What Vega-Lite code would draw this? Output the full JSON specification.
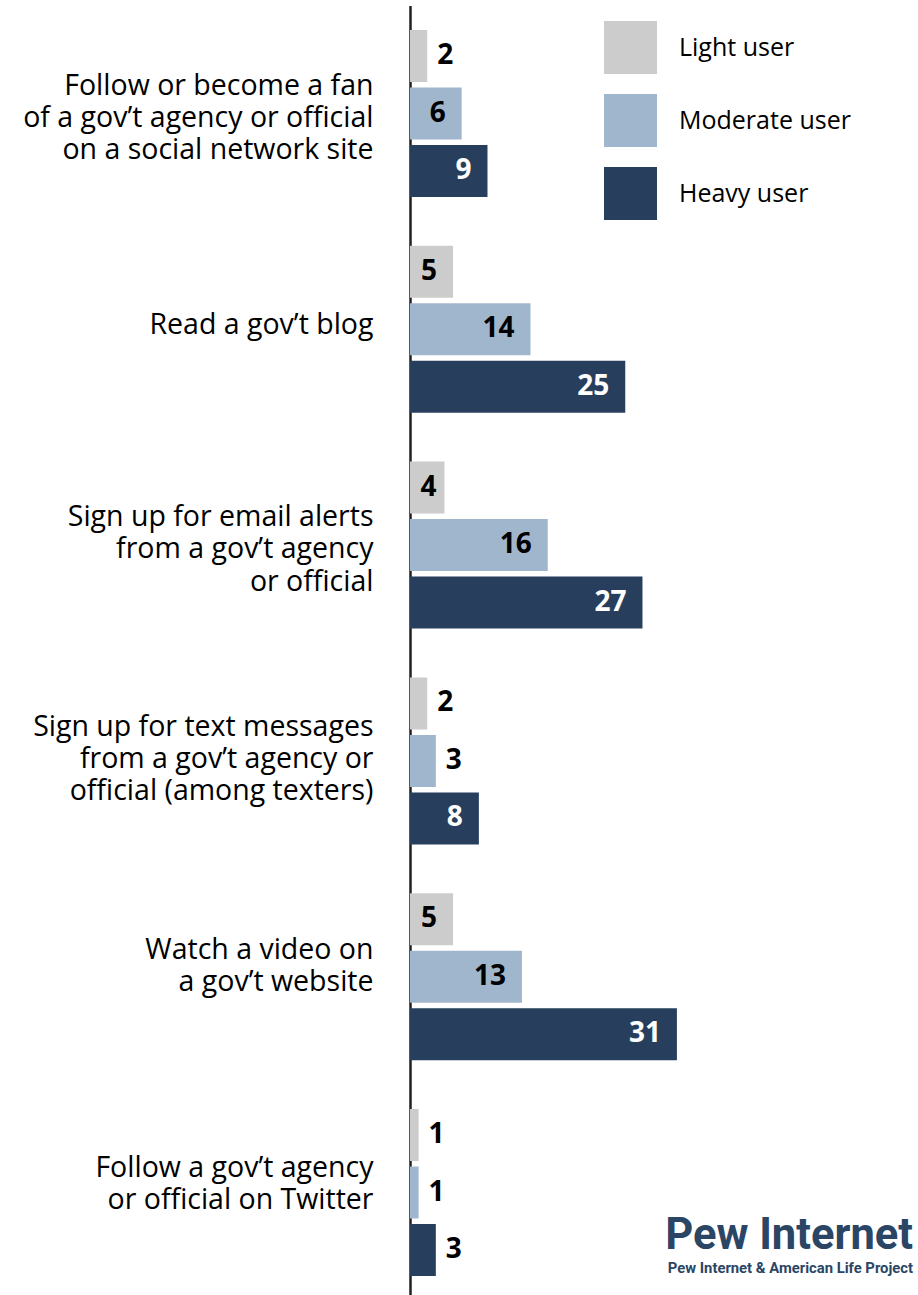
{
  "$schema": "https://vega.github.io/schema/vega-lite/v6.json",
  "width": 508,
  "height": 1295,
  "autosize": {"type": "none"},
  "padding": {"left": 410, "top": 0, "right": 0, "bottom": 0},
  "background": "white",
  "config": {"view": {"stroke": null}, "font": "Open Sans"},
  "title": {
    "text": "Pew Internet",
    "subtitle": "Pew Internet & American Life Project",
    "orient": "bottom",
    "anchor": "end",
    "frame": "group",
    "offset": -80,
    "dx": -5,
    "font": "Roboto",
    "fontSize": 43.5,
    "fontWeight": "bold",
    "color": "#2b4565",
    "subtitleFont": "Roboto",
    "subtitleFontSize": 14.8,
    "subtitleFontWeight": "bold",
    "subtitleColor": "#2b4565",
    "subtitlePadding": 2
  },
  "data": {
    "values": [
      {"activity": "Follow or become a fan|of a gov’t agency or official|on a social network site", "group": "Light user", "value": 2},
      {"activity": "Follow or become a fan|of a gov’t agency or official|on a social network site", "group": "Moderate user", "value": 6},
      {"activity": "Follow or become a fan|of a gov’t agency or official|on a social network site", "group": "Heavy user", "value": 9},
      {"activity": "Read a gov’t blog", "group": "Light user", "value": 5},
      {"activity": "Read a gov’t blog", "group": "Moderate user", "value": 14},
      {"activity": "Read a gov’t blog", "group": "Heavy user", "value": 25},
      {"activity": "Sign up for email alerts|from a gov’t agency|or official", "group": "Light user", "value": 4},
      {"activity": "Sign up for email alerts|from a gov’t agency|or official", "group": "Moderate user", "value": 16},
      {"activity": "Sign up for email alerts|from a gov’t agency|or official", "group": "Heavy user", "value": 27},
      {"activity": "Sign up for text messages|from a gov’t agency or|official (among texters)", "group": "Light user", "value": 2},
      {"activity": "Sign up for text messages|from a gov’t agency or|official (among texters)", "group": "Moderate user", "value": 3},
      {"activity": "Sign up for text messages|from a gov’t agency or|official (among texters)", "group": "Heavy user", "value": 8},
      {"activity": "Watch a video on|a gov’t website", "group": "Light user", "value": 5},
      {"activity": "Watch a video on|a gov’t website", "group": "Moderate user", "value": 13},
      {"activity": "Watch a video on|a gov’t website", "group": "Heavy user", "value": 31},
      {"activity": "Follow a gov’t agency|or official on Twitter", "group": "Light user", "value": 1},
      {"activity": "Follow a gov’t agency|or official on Twitter", "group": "Moderate user", "value": 1},
      {"activity": "Follow a gov’t agency|or official on Twitter", "group": "Heavy user", "value": 3}
    ]
  },
  "encoding": {
    "y": {
      "field": "activity",
      "type": "nominal",
      "sort": null,
      "scale": {"range": [5.6, 1300.4], "paddingInner": 0, "paddingOuter": 0},
      "axis": {
        "title": null,
        "domain": true,
        "domainColor": "#231f20",
        "domainWidth": 2.5,
        "ticks": false,
        "grid": false,
        "labelPadding": 37,
        "labelFontSize": 28.5,
        "labelFont": "Open Sans",
        "labelColor": "#000000",
        "labelLineHeight": 32.3,
        "labelOffset": {
          "condition": [
            {"test": "indexof(datum.value, 'Follow or become') >= 0", "value": -28},
            {"test": "indexof(datum.value, 'Read a gov') >= 0", "value": -4},
            {"test": "indexof(datum.value, 'email alerts') >= 0", "value": -28},
            {"test": "indexof(datum.value, 'text messages') >= 0", "value": -34},
            {"test": "indexof(datum.value, 'Watch a video') >= 0", "value": -27}
          ],
          "value": -25
        },
        "labelLimit": 0,
        "labelAlign": "right",
        "labelBaseline": "middle",
        "labelExpr": "split(datum.label, '|')"
      }
    },
    "yOffset": {
      "field": "group",
      "type": "nominal",
      "sort": ["Light user", "Moderate user", "Heavy user"],
      "scale": {"paddingInner": 0.096, "paddingOuter": 0.424}
    },
    "x": {
      "field": "value",
      "type": "quantitative",
      "scale": {"domain": [0, 59]},
      "axis": null
    }
  },
  "layer": [
    {
      "mark": {"type": "bar"},
      "encoding": {
        "color": {
          "field": "group",
          "type": "nominal",
          "scale": {"domain": ["Light user", "Moderate user", "Heavy user"], "range": ["#cccccc", "#a0b6cd", "#273f5c"]},
          "legend": {
            "orient": "none",
            "legendX": 194,
            "legendY": 21,
            "title": null,
            "symbolType": "square",
            "symbolSize": 2809,
            "symbolStrokeWidth": 0,
            "symbolOpacity": 1,
            "labelFontSize": 25,
            "labelFont": "Open Sans",
            "labelColor": "#000000",
            "labelOffset": 22,
            "labelLimit": 400,
            "rowPadding": 20,
            "padding": 0
          }
        }
      }
    },
    {
      "transform": [{"filter": "datum.value >= 5"}],
      "mark": {"type": "text", "align": "right", "baseline": "middle", "dx": -16, "fontSize": 28, "fontWeight": "bold", "font": "Open Sans"},
      "encoding": {
        "text": {"field": "value", "type": "quantitative"},
        "color": {"condition": {"test": "datum.group === 'Heavy user'", "value": "#ffffff"}, "value": "#000000"}
      }
    },
    {
      "transform": [{"filter": "datum.value == 4"}],
      "mark": {"type": "text", "align": "right", "baseline": "middle", "dx": -8, "fontSize": 28, "fontWeight": "bold", "font": "Open Sans"},
      "encoding": {
        "text": {"field": "value", "type": "quantitative"},
        "color": {"value": "#000000"}
      }
    },
    {
      "transform": [{"filter": "datum.value < 4"}],
      "mark": {"type": "text", "align": "left", "baseline": "middle", "dx": 10, "fontSize": 28, "fontWeight": "bold", "font": "Open Sans"},
      "encoding": {
        "text": {"field": "value", "type": "quantitative"},
        "color": {"value": "#000000"}
      }
    }
  ]
}
